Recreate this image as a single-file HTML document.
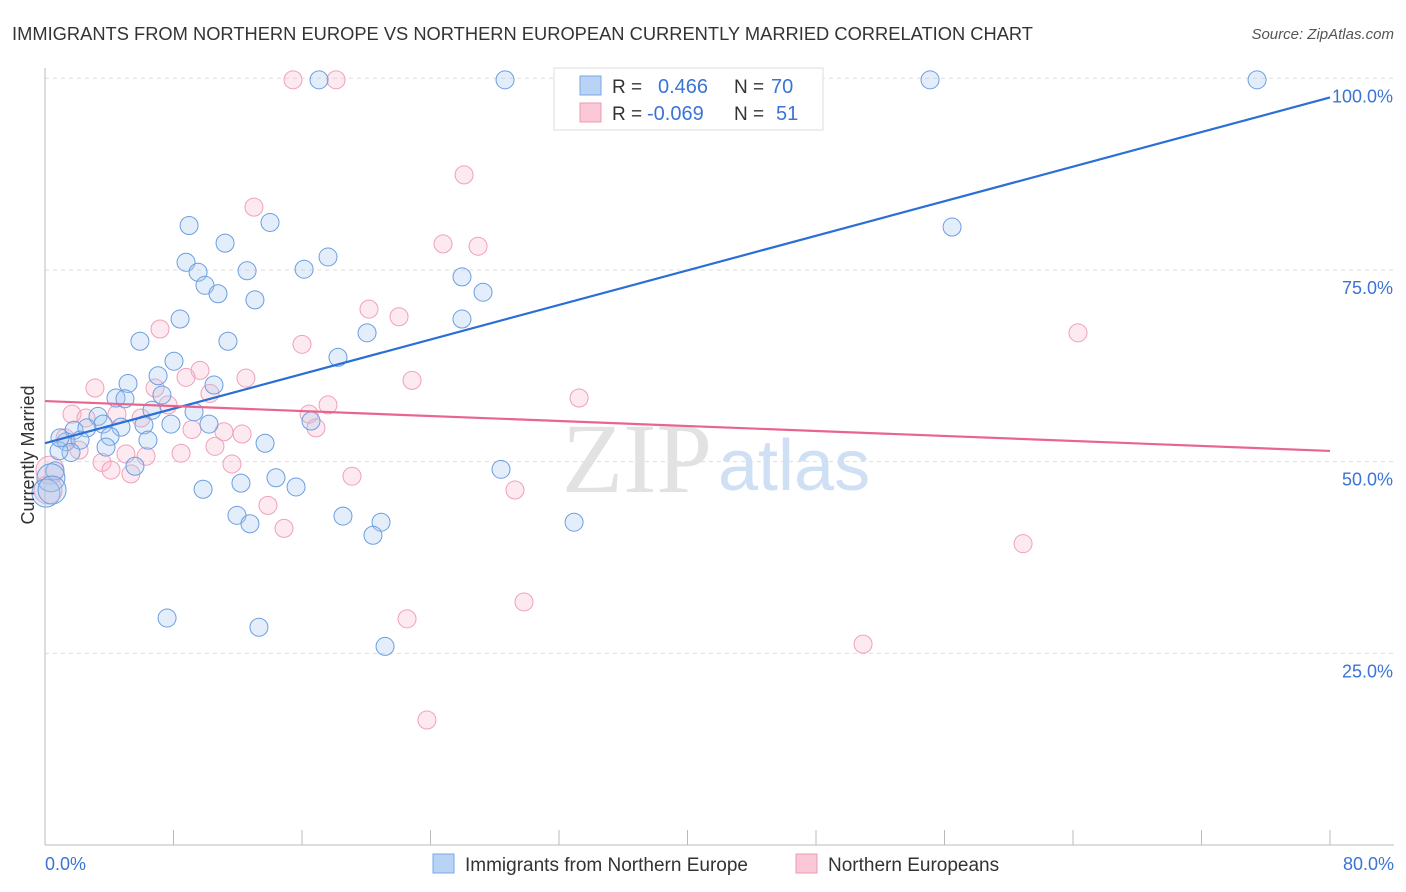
<!DOCTYPE html>
<html><head><meta charset="utf-8"><style>
body{margin:0;background:#fff;font-family:"Liberation Sans",sans-serif}
svg{display:block}
</style></head><body>
<svg width="1406" height="892" xmlns="http://www.w3.org/2000/svg" font-family="Liberation Sans, sans-serif">
<text x="12" y="40" font-size="18" fill="#333" textLength="1021" lengthAdjust="spacingAndGlyphs">IMMIGRANTS FROM NORTHERN EUROPE VS NORTHERN EUROPEAN CURRENTLY MARRIED CORRELATION CHART</text>
<text x="1394" y="39" font-size="15" fill="#555" text-anchor="end" font-style="italic">Source: ZipAtlas.com</text>
<g id="grid"></g>
<text x="712" y="492" font-size="100" fill="#e2e2e2" text-anchor="end" font-family="Liberation Serif, serif">ZIP</text>
<text x="718" y="490" font-size="72" fill="#cfe0f5">atlas</text>
<g id="pts"></g>
<g id="lines"></g>
<text transform="translate(34,455) rotate(-90)" font-size="18" fill="#333" text-anchor="middle">Currently Married</text>
<text x="45" y="870" font-size="18" fill="#3b74d4">0.0%</text>
<text x="1394" y="870" font-size="18" fill="#3b74d4" text-anchor="end">80.0%</text>
<g>
<rect x="554" y="68" width="269" height="62" fill="#fff" stroke="#ddd"/>
<rect x="580" y="76" width="21" height="19" fill="#b8d3f5" stroke="#7aa8e8"/>
<rect x="580" y="103" width="21" height="19" fill="#fac8d6" stroke="#ee9ab2"/>
<text x="612" y="93" font-size="19" fill="#333">R = </text><text x="658" y="93" font-size="20" fill="#3b74d4">0.466</text>
<text x="734" y="93" font-size="19" fill="#333">N = </text><text x="771" y="93" font-size="20" fill="#3b74d4">70</text>
<text x="612" y="120" font-size="19" fill="#333">R = </text><text x="647" y="120" font-size="20" fill="#3b74d4">-0.069</text>
<text x="734" y="120" font-size="19" fill="#333">N = </text><text x="776" y="120" font-size="20" fill="#3b74d4">51</text>
</g>
<g>
<rect x="433" y="854" width="21" height="19" fill="#b8d3f5" stroke="#7aa8e8"/>
<text x="465" y="871" font-size="19" fill="#333">Immigrants from Northern Europe</text>
<rect x="796" y="854" width="21" height="19" fill="#fac8d6" stroke="#ee9ab2"/>
<text x="828" y="871" font-size="19" fill="#333">Northern Europeans</text>
</g>
</svg>
<script>
const yTicks=[25,50,75,100];
const yTickLabels=["25.0%","50.0%","75.0%","100.0%"];
const xTicks=[0,8,16,24,32,40,48,56,64,72,80];
const blueX=[17.06,28.64,55.10,75.46,56.47,8.97,14.01,11.21,8.78,9.53,12.58,16.13,17.62,9.96,10.77,13.07,25.96,27.27,8.41,11.39,5.91,20.05,18.24,25.96,8.03,7.04,5.17,10.52,4.42,4.98,7.28,6.66,9.28,3.30,3.61,7.84,10.21,4.73,6.16,16.56,1.81,2.61,4.05,6.41,1.31,2.18,13.70,3.80,1.62,0.87,5.60,0.62,28.39,0.37,14.38,12.20,15.63,9.84,11.95,12.76,18.55,20.92,20.42,32.94,7.60,13.32,21.17,0.06,0.44,0.93];
const blueY=[99.8,99.8,99.8,99.8,80.6,80.8,81.2,78.5,76.0,74.7,74.9,75.1,76.7,73.0,71.9,71.1,74.1,72.1,68.6,65.7,65.7,66.8,63.6,68.6,63.1,61.2,60.2,60.0,58.3,58.2,58.7,56.7,56.5,55.9,54.9,54.9,54.9,54.5,54.8,55.3,54.1,54.4,53.3,52.8,52.6,52.8,52.4,51.9,51.2,51.4,49.4,48.8,49.0,47.9,47.9,47.2,46.7,46.4,43.0,41.9,42.9,42.1,40.4,42.1,29.6,28.4,25.9,45.9,46.3,53.1];
const pinkX=[15.44,18.12,26.09,13.01,24.78,26.96,64.31,20.17,22.04,7.16,16.00,9.65,8.78,12.51,22.85,3.11,6.85,10.27,7.66,33.25,17.62,1.68,2.55,4.48,16.44,5.98,9.15,16.87,12.27,11.14,1.25,2.12,10.58,8.47,5.04,6.29,3.55,11.64,4.11,5.35,19.11,29.26,13.88,14.88,60.89,29.82,22.54,50.93,23.78,0.31,0.19];
const pinkY=[99.8,99.8,87.4,83.2,78.4,78.1,66.8,69.9,68.9,67.3,65.3,61.9,61.0,60.9,60.6,59.6,59.6,58.9,57.4,58.3,57.4,56.2,55.7,56.2,56.2,55.7,54.2,54.4,53.6,53.9,53.1,51.5,52.0,51.1,51.0,50.7,49.9,49.7,48.9,48.4,48.1,46.3,44.3,41.3,39.3,31.7,29.5,26.2,16.3,48.9,46.3];
const blueTrend=[52.4,97.5];
const pinkTrend=[57.9,51.4];
const X=v=>45+v/80*1285, Y=v=>845-v*7.667;
const NS="http://www.w3.org/2000/svg";
function mk(t,a,p){const e=document.createElementNS(NS,t);for(const k in a)e.setAttribute(k,a[k]);p.appendChild(e);return e;}
const g=document.getElementById('grid');
yTicks.forEach((t,i)=>{
 const l=mk('line',{x1:45,x2:1394,y1:Y(t),y2:Y(t),stroke:'#ddd','stroke-dasharray':'4,4'},g);
 
 
 const tx=mk('text',{x:1393,y:Y(t)+24,'font-size':18,fill:'#3b74d4','text-anchor':'end'},g);
 tx.textContent=yTickLabels[i];
 
 
});
mk('line',{x1:45,x2:45,y1:68,y2:845,stroke:'#bbb'},g);
mk('line',{x1:45,x2:1394,y1:845,y2:845,stroke:'#bbb'},g);
xTicks.forEach(t=>{const l=mk('line',{x1:X(t),x2:X(t),y1:830,y2:845,stroke:'#bbb'},g);
 
 });
const p=document.getElementById('pts');
pinkX.forEach((x,i)=>{const c=mk('circle',{cx:X(x),cy:Y(pinkY[i]),r:x<0.5?14:9,fill:'rgba(248,185,205,0.3)',stroke:'#f0a0b8','stroke-width':1},p);
 
 });
blueX.forEach((x,i)=>{const c=mk('circle',{cx:X(x),cy:Y(blueY[i]),r:x<0.5?14:9,fill:'rgba(165,198,240,0.3)',stroke:'#6b9ee2','stroke-width':1},p);
 
 });
const L=document.getElementById('lines');
const b=mk('line',{x1:X(0),y1:Y(blueTrend[0]),x2:X(80),y2:Y(blueTrend[1]),stroke:'#2a6fd6','stroke-width':2.2},L);


const pk=mk('line',{x1:X(0),y1:Y(pinkTrend[0]),x2:X(80),y2:Y(pinkTrend[1]),stroke:'#e8668e','stroke-width':2.2},L);


</script>
</body></html>
